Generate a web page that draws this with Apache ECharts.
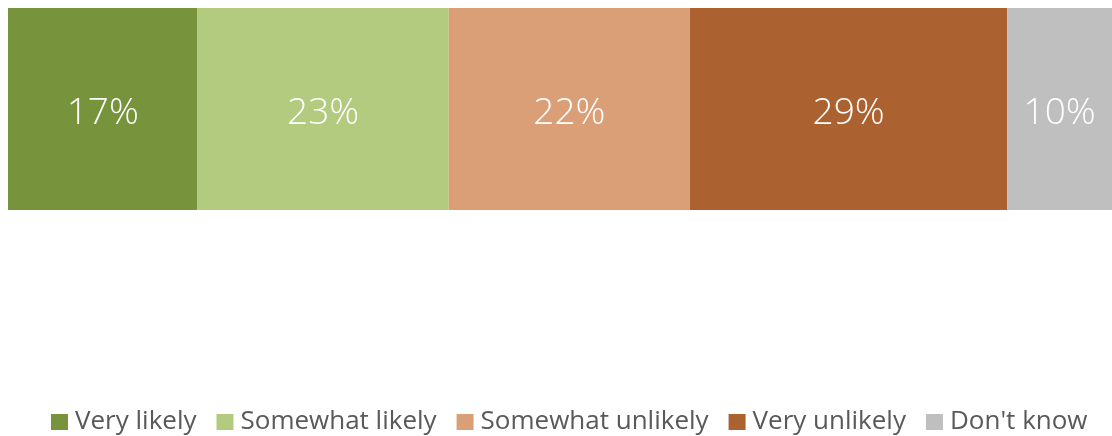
<!DOCTYPE html>
<html>
<head>
<meta charset="utf-8">
<script src="https://cdn.jsdelivr.net/npm/echarts@6/dist/echarts.min.js"></script>
<style>
  html, body { margin: 0; padding: 0; background: #fff; }
  #main { width: 1112px; height: 436px; }
</style>
</head>
<body>
<div id="main"></div>
<script>
var categories = ['Very likely', 'Somewhat likely', 'Somewhat unlikely', 'Very unlikely', "Don't know"];
var values = [17.2, 22.8, 21.9, 28.8, 9.5];
var colors = ['#77933c', '#b3cb7f', '#db9f78', '#ab6230', '#bfbfbf'];

var total = values.reduce(function (a, b) { return a + b; }, 0);

var chart = echarts.init(document.getElementById('main'));

var series = categories.map(function (name, i) {
  return {
    name: name,
    type: 'bar',
    stack: 'all',
    barWidth: '100%',
    itemStyle: { color: colors[i] },
    label: {
      show: true,
      position: 'inside',
      offset: [0, 4],
      color: '#fff',
      fontSize: 37,
      fontWeight: 300,
      fontFamily: 'Open Sans',
      formatter: function (p) { return Math.round(p.value) + '%'; }
    },
    data: [values[i]]
  };
});

var option = {
  animation: false,
  grid: { left: 8, right: 0, top: 8, height: 202 },
  xAxis: {
    type: 'value',
    min: 0,
    max: total,
    show: false
  },
  yAxis: {
    type: 'category',
    data: [''],
    show: false
  },
  legend: {
    top: 404,
    left: 46,
    itemWidth: 17,
    itemHeight: 16,
    itemGap: 20,
    icon: 'rect',
    textStyle: { fontSize: 26, color: '#595959', fontFamily: 'Open Sans', padding: [0, 0, 0, 2] },
    data: categories
  },
  series: series
};

chart.setOption(option);
</script>
</body>
</html>
